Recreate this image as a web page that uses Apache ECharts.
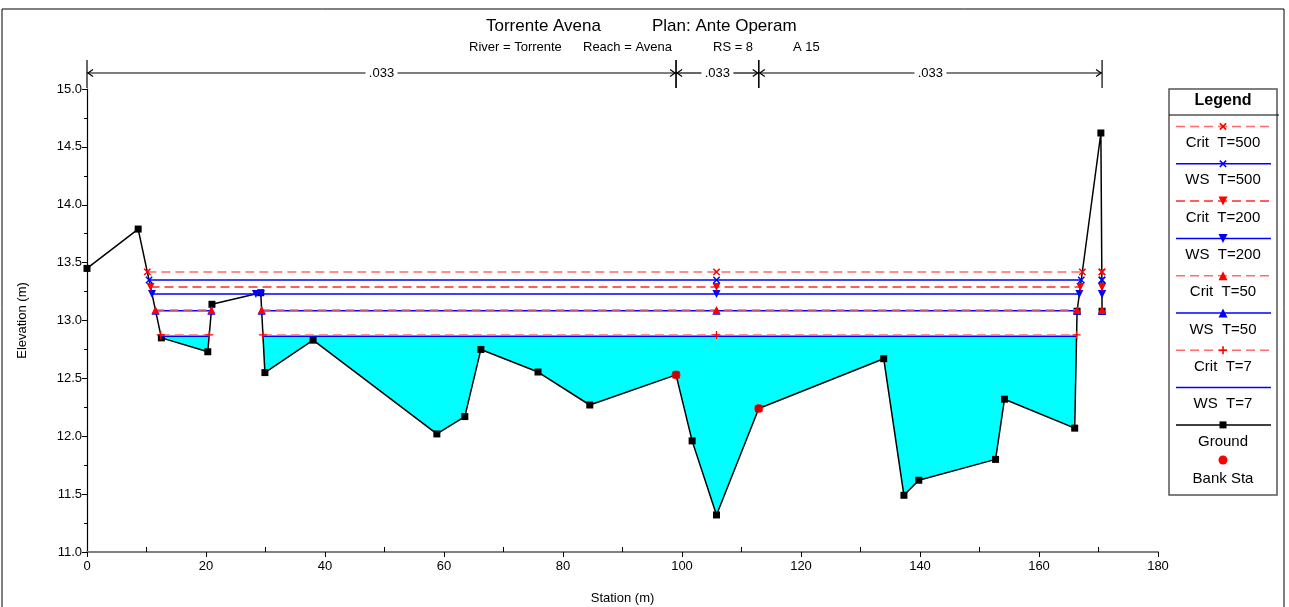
<!DOCTYPE html>
<html>
<head>
<meta charset="utf-8">
<script src="https://cdn.jsdelivr.net/npm/echarts@6/dist/echarts.min.js"></script>
<style>html,body{margin:0;padding:0;background:#fff;}#c{width:1289px;height:607px;}</style>
</head>
<body>
<div id="c"></div>
<script>
// ---------------- DATA ----------------
const groundX = [0, 8.6, 12.5, 20.3, 21.0, 29.2, 29.9, 38.0, 58.8, 63.5, 66.2, 75.8, 84.5, 99.0, 101.7, 105.8, 112.9, 133.9, 137.3, 139.8, 152.7, 154.2, 166.0, 166.4, 170.4, 170.6];
const groundY = [13.45, 13.79, 12.85, 12.73, 13.14, 13.24, 12.55, 12.83, 12.02, 12.17, 12.75, 12.555, 12.27, 12.53, 11.96, 11.32, 12.24, 12.67, 11.49, 11.62, 11.80, 12.32, 12.07, 13.08, 14.62, 13.08];
const bankX = [99.0, 112.9];
const bankY = [12.53, 12.24];
const profileNames = ['Crit  T=500', 'WS  T=500', 'Crit  T=200', 'WS  T=200', 'Crit  T=50', 'WS  T=50', 'Crit  T=7', 'WS  T=7'];
const profileLevels = [13.42, 13.35, 13.29, 13.23, 13.09, 13.085, 12.875, 12.865];
const nStations = [0, 99.0, 112.9, 170.6];
const nLabels = ['.033', '.033', '.033'];
const xTicks = [0, 20, 40, 60, 80, 100, 120, 140, 160, 180];
const yTicks = [11.0, 11.5, 12.0, 12.5, 13.0, 13.5, 14.0, 14.5, 15.0];
const titleParts = ['Torrente Avena', 'Plan: Ante Operam'];
const subTitleParts = ['River = Torrente', 'Reach = Avena', 'RS = 8', 'A 15'];

// ---------------- STYLES ----------------
const FONT = 'Arial, "Liberation Sans", sans-serif';
const RED = '#ff0000', BLUE = '#0000ff';
const PLUS = 'path://M4.2,0H5.8V4.2H10V5.8H5.8V10H4.2V5.8H0V4.2H4.2Z';
const profileStyles = [
  {color: RED, lineColor: '#ff6a6a', dashed: true, symbol: PLUS, rotate: 45, size: 9},
  {color: BLUE, lineColor: BLUE, dashed: false, symbol: PLUS, rotate: 45, size: 9},
  {color: RED, lineColor: '#ff2a2a', dashed: true, symbol: 'triangle', rotate: 180, size: 8},
  {color: BLUE, lineColor: BLUE, dashed: false, symbol: 'triangle', rotate: 180, size: 8},
  {color: RED, lineColor: '#ff6a6a', dashed: true, symbol: 'triangle', rotate: 0, size: 8},
  {color: BLUE, lineColor: BLUE, dashed: false, symbol: 'triangle', rotate: 0, size: 8},
  {color: RED, lineColor: '#ff6a6a', dashed: true, symbol: PLUS, rotate: 0, size: 8},
  {color: BLUE, lineColor: BLUE, dashed: false, symbol: 'none', rotate: 0, size: 0}
];

// wet intervals where ground is below level
function wetIntervals(level) {
  const res = []; let start = null; const n = groundX.length;
  if (groundY[0] < level) start = groundX[0];
  for (let i = 0; i < n - 1; i++) {
    const y1 = groundY[i], y2 = groundY[i + 1], x1 = groundX[i], x2 = groundX[i + 1];
    if (y1 >= level && y2 < level) start = x1 + (y1 - level) / (y1 - y2) * (x2 - x1);
    else if (y1 < level && y2 >= level) {
      res.push([start, x1 + (level - y1) / (y2 - y1) * (x2 - x1)]);
      start = null;
    }
  }
  if (start !== null) res.push([start, groundX[n - 1]]);
  return res;
}
let thalwegX = groundX[0], minY = Infinity;
groundY.forEach((y, i) => { if (y < minY) { minY = y; thalwegX = groundX[i]; } });

function profileData(level) {
  const out = [];
  wetIntervals(level).forEach(([a, b]) => {
    out.push([a, level]);
    if (thalwegX > a && thalwegX < b) out.push([thalwegX, level]);
    out.push([b, level]);
    out.push('-');
  });
  return out;
}

const series = [];
// water fill for lowest WS profile
const wsLevel = profileLevels[7];
series.push({
  type: 'custom', name: 'water', z: 1, silent: true,
  data: wetIntervals(wsLevel),
  encode: {x: [0, 1]},
  renderItem: function (params, api) {
    const a = api.value(0), b = api.value(1);
    const pts = [api.coord([a, wsLevel])];
    groundX.forEach((x, i) => { if (x > a && x < b) pts.push(api.coord([x, groundY[i]])); });
    pts.push(api.coord([b, wsLevel]));
    return {type: 'polygon', shape: {points: pts}, style: {fill: '#00ffff', stroke: null}};
  }
});
// ground
series.push({
  type: 'line', name: 'Ground', z: 3,
  data: groundX.map((x, i) => [x, groundY[i]]),
  symbol: 'rect', symbolSize: 7, showAllSymbol: true,
  lineStyle: {color: '#000', width: 1.5}, itemStyle: {color: '#000'}
});
// profiles (draw lowest first)
for (let k = profileNames.length - 1; k >= 0; k--) {
  const st = profileStyles[k];
  series.push({
    type: 'line', name: profileNames[k], z: 4,
    data: profileData(profileLevels[k]),
    symbol: st.symbol, symbolSize: st.size, symbolRotate: st.rotate, showAllSymbol: true,
    connectNulls: false,
    lineStyle: {color: st.lineColor, width: 1.5, type: st.dashed ? [9, 5] : 'solid'},
    itemStyle: {color: st.color}
  });
}
// bank stations
series.push({
  type: 'scatter', name: 'Bank Sta', z: 5,
  data: bankX.map((x, i) => [x, bankY[i]]),
  symbol: 'circle', symbolSize: 9, itemStyle: {color: RED}
});
// Manning's n line
series.push({
  type: 'custom', name: 'n', z: 6, silent: true, clip: false,
  data: nLabels.map((l, i) => [nStations[i], nStations[i + 1]]),
  encode: {x: [0, 1]},
  renderItem: function (params, api) {
    const p1 = api.coord([api.value(0), 15]), p2 = api.coord([api.value(1), 15]);
    const y = p1[1] - 16, xa = p1[0], xb = p2[0], mid = (xa + xb) / 2, half = 16;
    const ls = {stroke: '#000', lineWidth: 1.2, fill: null};
    return {type: 'group', children: [
      {type: 'line', shape: {x1: xa, y1: y, x2: mid - half, y2: y}, style: ls},
      {type: 'line', shape: {x1: mid + half, y1: y, x2: xb, y2: y}, style: ls},
      {type: 'polyline', shape: {points: [[xa + 6, y - 3.5], [xa + 1, y], [xa + 6, y + 3.5]]}, style: ls},
      {type: 'polyline', shape: {points: [[xb - 6, y - 3.5], [xb - 1, y], [xb - 6, y + 3.5]]}, style: ls},
      {type: 'line', shape: {x1: xa, y1: y - 13, x2: xa, y2: y + 15}, style: ls},
      {type: 'line', shape: {x1: xb, y1: y - 13, x2: xb, y2: y + 15}, style: ls},
      {type: 'text', x: mid, y: y, style: {text: nLabels[params.dataIndex], font: '13px ' + FONT, fill: '#000', align: 'center', verticalAlign: 'middle'}}
    ]};
  }
});

// ---------------- LEGEND (graphic) ----------------
const LX0 = 1169, LX1 = 1277, LY0 = 89, LY1 = 495, LMID = 1223;
const legend = [];
legend.push({type: 'rect', shape: {x: LX0, y: LY0, width: LX1 - LX0, height: LY1 - LY0}, style: {fill: '#fff', stroke: '#555', lineWidth: 1.5}, z: 10});
legend.push({type: 'text', x: LMID, y: 101, style: {text: 'Legend', font: 'bold 16px ' + FONT, fill: '#000', align: 'center', verticalAlign: 'middle'}, z: 11});
legend.push({type: 'line', shape: {x1: LX0, y1: 115, x2: LX1 + 2, y2: 115}, style: {stroke: '#000', lineWidth: 1}, z: 11});
function markerShape(st, cx, cy) {
  const s = st.size / 2 + 0.5;
  if (st.symbol === 'triangle') {
    const pts = st.rotate === 180 ? [[cx - s, cy - s], [cx + s, cy - s], [cx, cy + s]] : [[cx - s, cy + s], [cx + s, cy + s], [cx, cy - s]];
    return [{type: 'polygon', shape: {points: pts}, style: {fill: st.color}, z: 12}];
  }
  if (st.symbol === PLUS) {
    const r = st.size / 2;
    if (st.rotate === 45) {
      return [
        {type: 'line', shape: {x1: cx - r * 0.7, y1: cy - r * 0.7, x2: cx + r * 0.7, y2: cy + r * 0.7}, style: {stroke: st.color, lineWidth: 1.6}, z: 12},
        {type: 'line', shape: {x1: cx - r * 0.7, y1: cy + r * 0.7, x2: cx + r * 0.7, y2: cy - r * 0.7}, style: {stroke: st.color, lineWidth: 1.6}, z: 12}];
    }
    return [
      {type: 'line', shape: {x1: cx - r, y1: cy, x2: cx + r, y2: cy}, style: {stroke: st.color, lineWidth: 1.6}, z: 12},
      {type: 'line', shape: {x1: cx, y1: cy - r, x2: cx, y2: cy + r}, style: {stroke: st.color, lineWidth: 1.6}, z: 12}];
  }
  return [];
}
const rowStep = 37.3;
profileNames.forEach((name, k) => {
  const st = profileStyles[k];
  const ly = 126.5 + k * rowStep;
  legend.push({type: 'line', shape: {x1: 1176, y1: ly, x2: 1271, y2: ly}, style: {stroke: st.lineColor, lineWidth: 1.5, lineDash: st.dashed ? [9, 5] : null}, z: 11});
  markerShape(st, LMID, ly).forEach(m => legend.push(m));
  legend.push({type: 'text', x: LMID, y: ly + 16.5, style: {text: name, font: '15px ' + FONT, fill: '#000', align: 'center', verticalAlign: 'middle'}, z: 11});
});
{
  const ly = 126.5 + 8 * rowStep;
  legend.push({type: 'line', shape: {x1: 1176, y1: ly, x2: 1271, y2: ly}, style: {stroke: '#000', lineWidth: 1.5}, z: 11});
  legend.push({type: 'rect', shape: {x: LMID - 3.5, y: ly - 3.5, width: 7, height: 7}, style: {fill: '#000'}, z: 12});
  legend.push({type: 'text', x: LMID, y: ly + 17, style: {text: 'Ground', font: '15px ' + FONT, fill: '#000', align: 'center', verticalAlign: 'middle'}, z: 11});
  const by = 460;
  legend.push({type: 'circle', shape: {cx: LMID, cy: by, r: 4.5}, style: {fill: RED}, z: 12});
  legend.push({type: 'text', x: LMID, y: 479, style: {text: 'Bank Sta', font: '15px ' + FONT, fill: '#000', align: 'center', verticalAlign: 'middle'}, z: 11});
}

const titleX = [486, 652];
const subX = [469, 583, 713, 793];
const graphics = [
  {type: 'rect', shape: {x: 2, y: 9, width: 1282, height: 610}, style: {fill: null, stroke: '#000', lineWidth: 1}, z: 0, silent: true}
].concat(
  titleParts.map((t, i) => ({type: 'text', x: titleX[i], y: 26, style: {text: t, font: '17px ' + FONT, fill: '#000', align: 'left', verticalAlign: 'middle'}})),
  subTitleParts.map((t, i) => ({type: 'text', x: subX[i], y: 47, style: {text: t, font: '13px ' + FONT, fill: '#000', align: 'left', verticalAlign: 'middle'}})),
  legend
);

const chart = echarts.init(document.getElementById('c'), null, {renderer: 'canvas'});
chart.setOption({
  animation: false,
  backgroundColor: '#fff',
  textStyle: {fontFamily: FONT},
  grid: {left: 87, right: 131, top: 89, bottom: 55, containLabel: false, outerBoundsMode: 'none'},
  xAxis: [{
    type: 'value', min: xTicks[0], max: xTicks[xTicks.length - 1], interval: 20,
    name: 'Station (m)', nameLocation: 'middle', nameGap: 40,
    nameTextStyle: {fontSize: 13, color: '#000', fontFamily: FONT},
    axisLine: {lineStyle: {color: '#808080', width: 2}},
    axisTick: {show: true, length: 5, lineStyle: {color: '#000'}},
    axisLabel: {fontSize: 13, color: '#000', margin: 8, fontFamily: FONT},
    splitLine: {show: false}
  }, {
    type: 'value', min: 0, max: 180, interval: 10, position: 'bottom',
    axisLine: {show: false},
    axisTick: {show: true, inside: true, length: 5, lineStyle: {color: '#000'}, customValues: [10, 30, 50, 70, 90, 110, 130, 150, 170]},
    axisLabel: {show: false}, splitLine: {show: false}
  }],
  yAxis: {
    type: 'value', min: yTicks[0], max: yTicks[yTicks.length - 1], interval: 0.5,
    name: 'Elevation (m)', nameLocation: 'middle', nameGap: 58, nameRotate: 90,
    nameTextStyle: {fontSize: 13, color: '#000', fontFamily: FONT},
    axisLine: {show: true, lineStyle: {color: '#000', width: 1.2}},
    axisTick: {show: true, length: 5, lineStyle: {color: '#000'}},
    minorTick: {show: true, splitNumber: 2, length: 3, lineStyle: {color: '#000'}},
    axisLabel: {fontSize: 13, color: '#000', margin: 5, formatter: v => v.toFixed(1), fontFamily: FONT},
    splitLine: {show: false}
  },
  series: series,
  graphic: graphics
});
</script>
</body>
</html>
